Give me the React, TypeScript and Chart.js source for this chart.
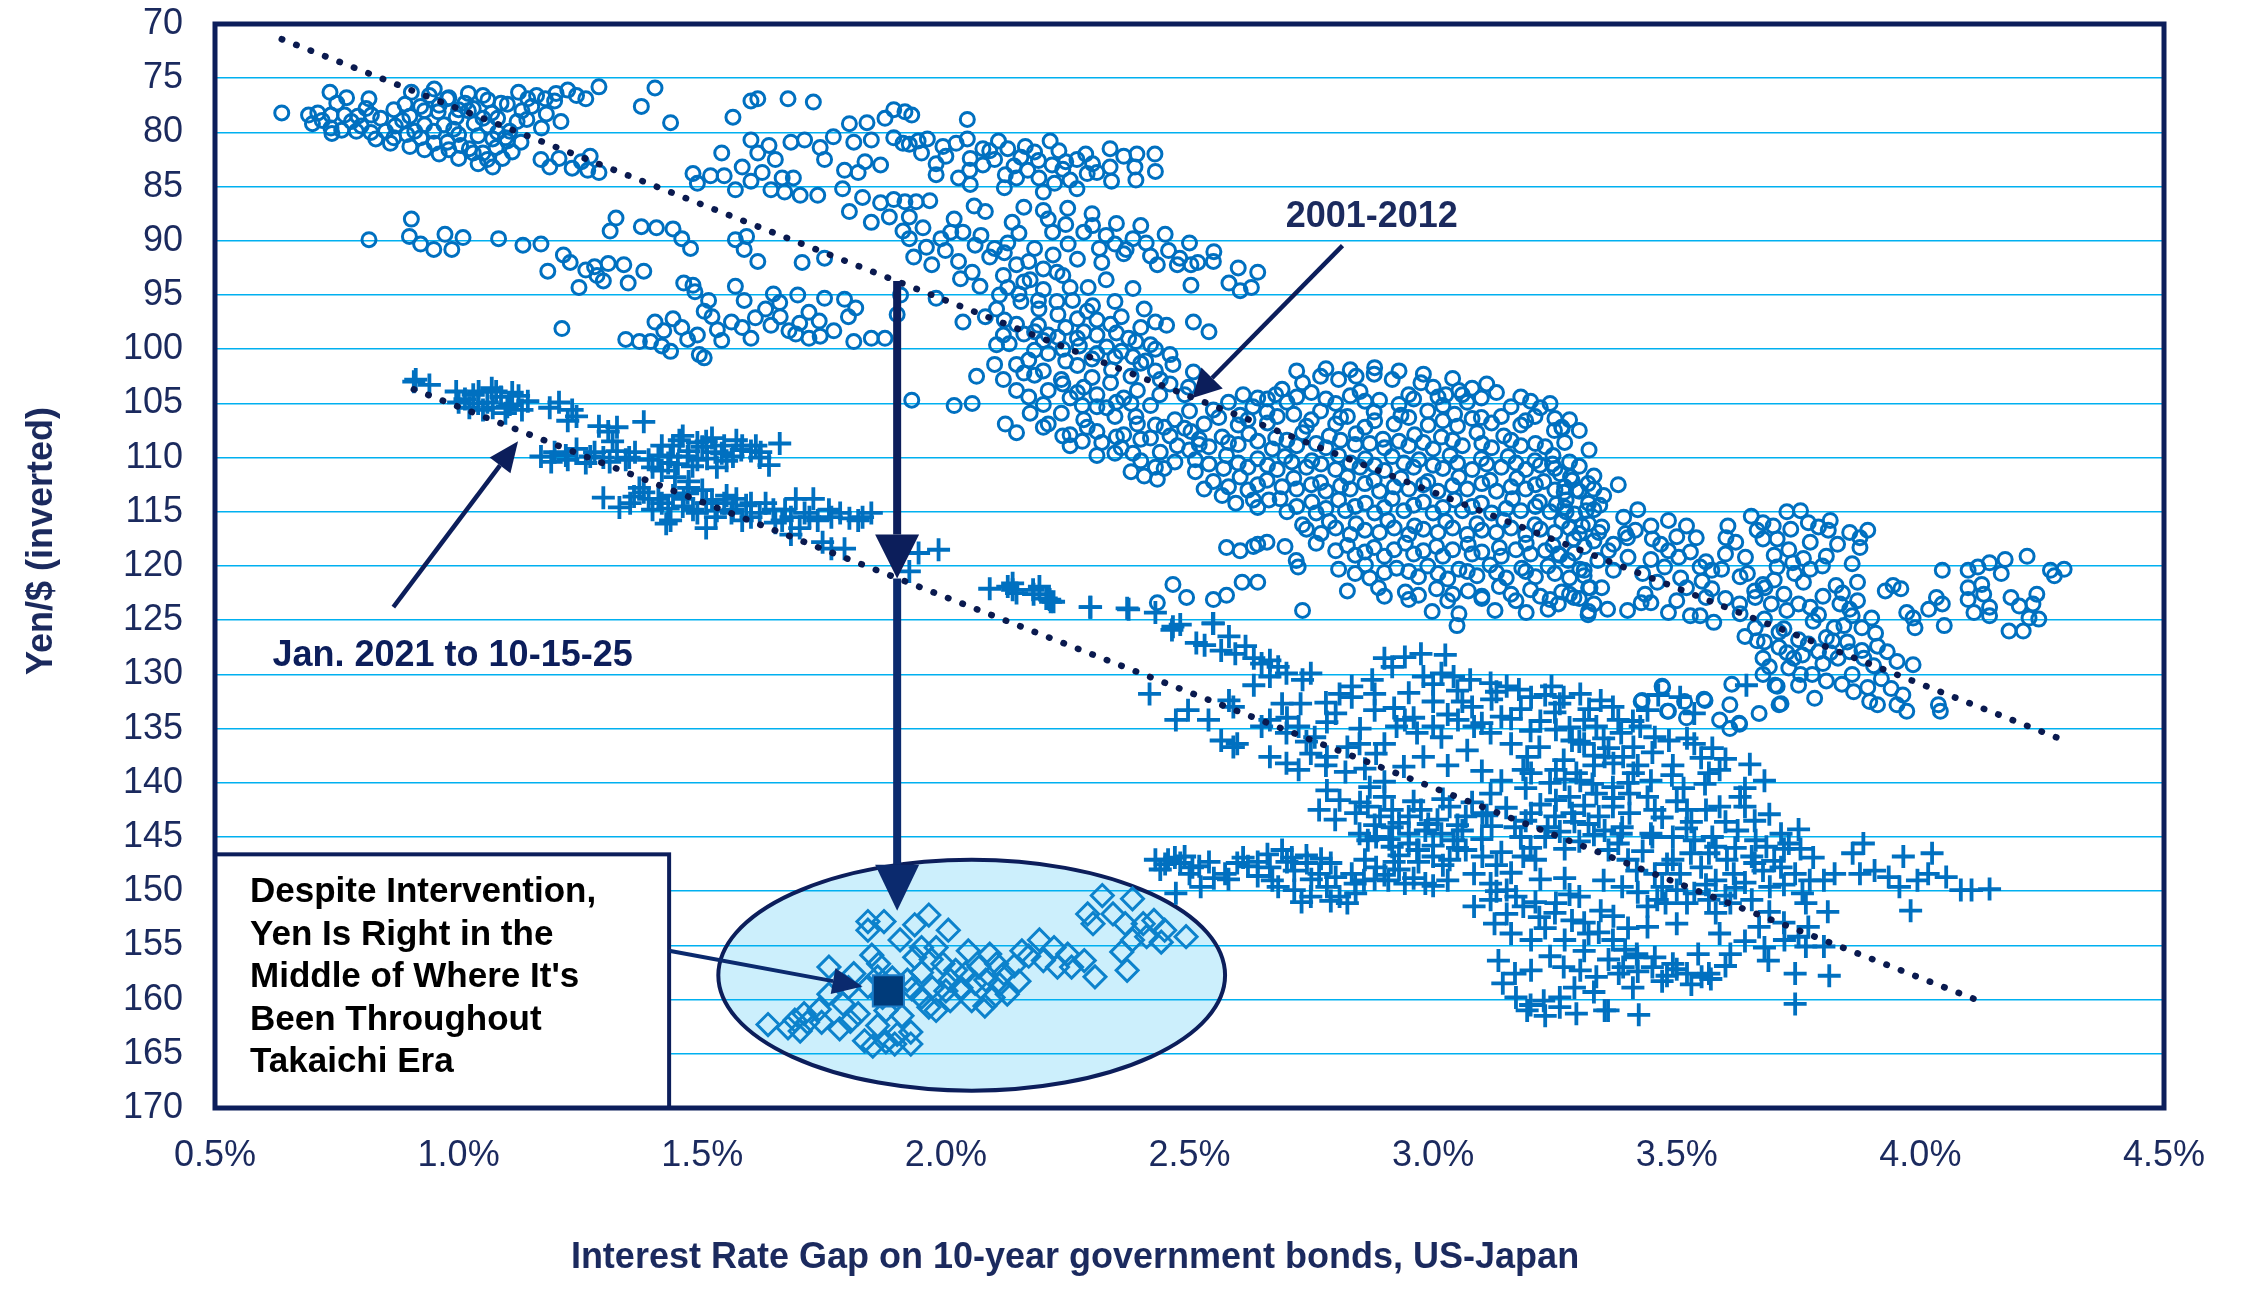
import { useEffect, useRef } from "react";
import { Chart, registerables } from "chart.js";

Chart.register(...registerables);

// x = US-Japan 10y yield gap (%), y = yen per dollar (axis inverted)
const period2001to2012: [number, number][] = [
	[0.637, 78.2], [0.692, 78.4], [0.711, 78.2], [0.738, 78.4], [0.766, 78.4], [0.793, 78.5], [0.821, 78.4],
	[0.736, 76.3], [0.77, 76.8], [0.816, 76.9], [0.738, 79.6], [0.76, 79.8], [0.79, 79.9], [0.82, 80.0], [0.85, 79.9],
	[0.867, 77.9], [0.885, 78.9], [0.903, 76.3], [0.922, 77.6], [0.94, 76.6], [0.958, 78.1], [0.977, 76.9], [0.995, 78.6],
	[1.013, 77.3], [1.032, 79.2], [1.05, 76.6], [1.068, 78.2], [1.087, 77.3], [1.105, 79.9], [1.123, 76.3], [1.142, 76.9],
	[1.16, 76.6], [1.178, 76.9], [1.197, 77.1], [1.224, 76.1], [1.242, 76.6], [1.261, 76.9], [1.288, 75.8],
	[0.9, 78.5], [0.93, 79.3], [0.96, 77.5], [0.99, 79.7], [1.02, 78.0], [1.04, 80.3], [1.06, 79.4], [1.08, 78.7],
	[1.1, 80.8], [1.12, 79.0], [1.0, 80.2], [0.95, 81.0], [1.11, 81.8],
	[0.72, 78.9], [0.75, 77.3], [0.78, 79.0], [0.81, 77.8], [0.84, 78.7], [0.87, 79.4], [0.89, 77.4], [0.91, 79.9],
	[0.93, 78.0], [0.97, 79.3], [1.0, 77.9], [1.03, 77.8], [1.05, 78.7], [1.08, 80.0], [1.13, 78.0], [1.15, 77.6],
	[1.18, 78.3], [1.2, 76.4], [0.98, 81.6], [1.03, 81.9], [1.07, 80.6], [1.09, 82.4],
	[0.7, 79.2], [0.74, 80.1], [0.8, 79.4], [0.83, 80.6], [0.86, 81.0], [0.9, 81.3], [0.93, 81.6], [0.96, 82.0],
	[1.0, 82.4], [1.04, 82.9], [1.07, 83.2], [1.06, 77.0], [1.1, 77.4], [1.14, 78.8], [1.17, 79.6], [1.21, 79.0],
	[0.98, 76.8], [0.95, 76.0], [1.02, 76.4],
	[0.867, 80.5], [0.894, 80.2], [0.922, 80.5], [0.949, 79.9], [0.977, 80.9], [1.004, 81.2], [1.022, 81.5], [1.05, 81.9],
	[1.059, 82.5], [1.077, 81.4], [1.096, 80.5], [1.128, 80.9], [1.169, 82.5], [1.187, 83.2], [1.206, 82.4], [1.233, 83.3],
	[1.252, 82.7], [1.27, 82.2], [1.288, 83.7], [1.265, 83.5],
	[1.375, 77.6], [1.403, 75.9], [1.435, 79.1], [1.563, 78.6], [1.6, 77.1], [1.614, 76.9], [1.676, 76.9], [1.728, 77.2],
	[0.816, 89.9], [0.903, 88.0], [0.899, 89.6], [0.922, 90.3], [0.949, 90.8], [0.972, 89.4], [0.986, 90.8], [1.009, 89.7],
	[1.082, 89.8], [1.132, 90.4], [1.169, 90.3], [1.215, 91.3], [1.229, 92.0], [1.183, 92.8], [1.261, 92.7], [1.279, 92.4],
	[1.307, 92.1], [1.339, 92.2], [1.38, 92.8], [1.284, 93.2], [1.297, 93.7], [1.247, 94.3], [1.348, 93.9], [1.212, 98.1],
	[1.311, 89.1], [1.323, 87.9], [1.375, 88.7], [1.406, 88.8], [1.44, 88.9], [1.458, 89.8], [1.476, 90.7],
	[1.568, 89.9], [1.591, 89.6], [1.586, 90.8], [1.614, 91.9], [1.705, 92.0], [1.751, 91.6],
	[1.462, 93.9], [1.481, 94.1], [1.485, 94.7], [1.513, 95.5], [1.504, 96.5], [1.568, 94.2], [1.586, 95.5], [1.646, 94.9],
	[1.659, 95.7], [1.696, 95.0], [1.719, 96.6], [1.751, 95.3], [1.792, 95.4], [1.815, 96.2],
	[1.343, 99.1], [1.371, 99.3], [1.394, 99.3], [1.417, 99.7], [1.435, 100.2], [1.403, 97.5], [1.421, 98.3], [1.458, 98.0],
	[1.49, 98.7], [1.494, 100.5], [1.504, 100.8], [1.531, 98.2], [1.54, 99.2], [1.582, 98.0], [1.6, 99.0], [1.609, 97.1],
	[1.641, 97.8], [1.678, 98.3], [1.692, 98.6], [1.719, 99.0], [1.742, 98.8], [1.811, 99.3], [1.847, 99.0], [1.875, 99.0],
	[1.9, 96.8], [1.907, 95.0],
	[1.44, 97.2], [1.47, 99.1], [1.52, 97.0], [1.56, 97.5], [1.63, 96.3], [1.66, 97.0], [1.7, 97.6], [1.74, 97.4],
	[1.77, 98.3], [1.8, 97.0],
	[1.481, 83.8], [1.49, 84.7], [1.517, 84.0], [1.54, 81.9], [1.545, 84.0], [1.568, 85.3], [1.582, 83.2], [1.6, 80.7],
	[1.6, 84.5], [1.614, 81.9], [1.623, 83.7], [1.637, 81.2], [1.641, 85.3], [1.65, 82.5], [1.664, 84.2], [1.669, 85.5],
	[1.682, 80.9], [1.687, 84.2], [1.701, 85.8], [1.71, 80.7], [1.737, 85.8], [1.742, 81.4], [1.751, 82.5], [1.769, 80.4],
	[1.788, 85.2], [1.792, 83.5], [1.802, 79.2], [1.811, 80.9], [1.82, 83.7], [1.829, 86.0], [1.834, 82.7], [1.838, 79.1],
	[1.847, 80.7], [1.866, 83.0], [1.875, 78.7], [1.884, 87.8], [1.893, 77.9], [1.893, 80.5], [1.912, 81.0], [1.802, 87.3],
	[1.847, 88.3], [1.866, 86.5], [1.893, 86.2], [1.912, 89.1], [1.925, 89.8], [1.916, 78.1],
	[1.93, 78.4], [2.044, 78.8], [1.925, 81.1], [1.943, 80.8], [1.962, 80.6], [1.98, 82.9], [1.994, 81.3], [1.98, 83.9],
	[2.021, 81.0], [2.026, 84.2], [2.044, 80.6], [2.049, 83.5], [2.076, 81.5], [2.076, 83.0], [2.09, 81.7], [2.108, 80.8],
	[2.122, 83.9], [2.127, 81.5], [2.145, 84.2], [2.154, 82.3], [2.163, 81.3], [2.168, 83.5], [2.182, 81.8], [2.191, 84.2],
	[2.214, 80.8], [2.218, 83.0], [2.223, 84.7], [2.232, 81.7], [2.246, 82.7], [2.255, 84.4], [2.269, 85.2], [2.269, 82.5],
	[2.287, 82.0], [2.301, 82.9], [2.31, 83.7], [2.337, 81.5], [2.337, 83.2], [2.365, 82.2], [2.388, 83.2], [2.392, 82.0],
	[2.429, 82.0],
	[1.95, 81.9], [2.0, 82.2], [2.05, 82.4], [2.1, 82.5], [2.14, 83.1], [2.19, 82.6], [2.24, 83.4], [2.29, 83.8],
	[2.34, 84.5], [2.39, 84.4], [2.43, 83.6], [2.05, 84.8], [2.12, 85.1], [2.2, 85.5],
	[1.916, 86.4], [1.939, 86.4], [1.967, 86.3], [1.925, 87.8], [1.953, 88.8], [1.99, 89.8], [2.017, 88.0], [2.035, 89.2],
	[2.058, 86.8], [2.081, 87.3], [2.072, 89.5], [2.1, 90.7], [2.136, 88.3], [2.127, 90.2], [2.15, 89.3], [2.182, 90.7],
	[2.21, 88.0], [2.219, 89.2], [2.246, 88.5], [2.251, 90.3], [2.283, 89.2], [2.301, 88.6], [2.315, 90.7], [2.329, 89.5],
	[2.347, 90.3], [2.365, 91.2], [2.384, 89.8], [2.411, 90.2], [2.434, 92.2], [2.457, 90.9], [2.475, 92.2], [2.503, 92.2],
	[2.517, 92.0], [2.549, 91.9], [2.503, 94.1], [2.581, 93.9], [2.627, 94.3], [2.604, 94.6], [2.384, 94.4], [2.407, 96.3],
	[2.43, 97.5], [2.453, 97.8], [2.508, 97.5], [2.54, 98.4], [2.466, 101.4], [2.508, 102.1], [2.498, 103.5],
	[2.16, 86.9], [2.2, 87.2], [2.25, 87.0], [2.3, 87.5], [2.35, 88.4], [2.4, 88.6], [2.45, 89.4], [2.5, 90.2],
	[2.55, 91.0], [2.6, 92.5], [2.64, 92.9], [2.48, 91.6], [2.42, 91.4], [2.37, 90.8], [2.32, 92.0], [2.27, 91.7],
	[2.22, 91.3], [2.17, 91.9], [2.12, 91.1], [2.06, 90.4], [2.01, 89.2], [1.96, 90.6],
	[1.934, 91.5], [1.971, 92.2], [1.999, 90.9], [2.026, 91.9], [2.054, 92.9], [2.09, 91.5], [2.118, 93.2], [2.145, 92.2],
	[2.173, 93.6], [2.2, 92.6], [2.228, 92.9], [2.255, 94.3], [2.292, 94.3], [2.329, 93.6], [2.347, 95.6], [2.301, 96.0],
	[2.228, 95.6], [2.191, 96.3], [2.154, 95.6], [2.127, 94.3], [2.104, 96.3], [2.118, 98.7], [2.104, 99.6], [2.1, 101.4],
	[2.063, 102.5], [2.017, 105.2], [2.054, 105.0], [1.93, 104.7], [1.98, 95.3], [2.035, 97.5], [2.081, 97.0], [2.145, 97.7],
	[2.182, 98.4], [2.21, 98.7], [2.246, 98.0], [2.283, 98.4], [2.31, 98.7], [2.338, 97.7], [2.375, 99.0], [2.384, 100.7],
	[2.347, 100.7], [2.31, 100.4], [2.274, 99.7], [2.246, 101.1], [2.21, 100.4], [2.182, 100.1], [2.145, 101.4], [2.118, 102.8],
	[2.145, 103.8], [2.182, 102.4], [2.21, 103.8], [2.237, 102.8], [2.255, 104.5], [2.283, 103.5], [2.31, 104.2], [2.338, 103.1],
	[2.365, 104.5], [2.393, 103.8], [2.42, 105.2], [2.439, 104.2], [2.122, 106.9], [2.145, 107.7], [2.173, 105.9], [2.21, 106.9],
	[2.237, 105.9], [2.255, 107.9], [2.283, 106.5], [2.31, 107.6], [2.347, 106.2], [2.365, 107.9], [2.393, 106.9], [2.42, 108.2],
	[2.448, 107.2], [2.475, 108.9], [2.31, 109.8], [2.347, 109.6], [2.384, 109.6], [2.407, 111.7], [2.434, 112.0], [2.448, 111.0],
	[2.255, 108.9], [2.512, 111.3], [2.53, 112.9], [2.567, 113.5], [2.631, 113.9], [2.663, 113.9],
	[2.13, 99.5], [2.17, 101.0], [2.2, 99.2], [2.24, 100.0], [2.27, 101.5], [2.3, 102.6], [2.34, 101.9], [2.38, 102.5],
	[2.41, 101.1], [2.44, 102.8], [2.43, 100.0], [2.4, 98.0], [2.36, 97.0], [2.29, 96.5], [2.26, 95.5], [2.2, 94.5],
	[2.16, 93.8], [2.24, 93.2], [2.28, 105.2], [2.33, 105.4], [2.38, 105.0], [2.4, 108.3], [2.44, 109.5], [2.47, 110.4],
	[2.5, 109.3], [2.35, 108.1], [2.29, 107.2], [2.2, 105.1], [2.17, 104.4], [2.47, 106.5], [2.5, 105.7],
	[2.03, 93.5], [2.07, 94.2], [2.11, 95.0], [2.15, 94.9], [2.19, 95.5], [2.23, 96.8], [2.27, 97.2], [2.31, 97.3],
	[2.35, 98.5], [2.39, 99.3], [2.42, 99.6], [2.46, 100.5], [2.12, 97.3], [2.16, 98.6], [2.19, 97.8], [2.23, 98.9],
	[2.27, 99.0], [2.3, 100.9], [2.33, 99.8], [2.36, 100.2], [2.4, 101.3], [2.43, 102.0], [2.46, 103.2], [2.49, 104.2],
	[2.16, 102.2], [2.2, 102.0], [2.24, 103.2], [2.27, 104.0], [2.31, 105.3], [2.35, 104.9], [2.39, 106.2], [2.43, 107.0],
	[2.46, 108.0], [2.49, 107.3], [2.52, 108.8], [2.2, 107.2], [2.24, 108.0], [2.28, 108.5], [2.32, 108.6], [2.36, 109.1],
	[2.4, 110.3], [2.43, 110.9], [2.38, 111.3],
	[2.64, 104.5], [2.677, 104.2], [2.732, 103.1], [2.769, 102.5], [2.806, 102.8], [2.842, 102.5], [2.879, 102.3], [2.916, 102.8],
	[2.975, 103.1], [3.026, 104.2], [3.053, 103.8], [3.099, 104.5], [3.2, 104.8], [3.209, 106.2], [3.264, 107.2],
	[2.72, 102.0], [2.78, 101.8], [2.83, 101.9], [2.88, 101.7], [2.93, 102.0], [2.98, 102.3], [3.04, 102.7], [3.11, 103.2],
	[2.69, 103.7], [2.75, 104.0], [2.85, 103.9], [2.95, 104.2], [3.0, 103.5], [3.08, 103.6],
	[2.61, 104.2], [2.66, 104.6], [2.72, 104.4], [2.78, 104.6], [2.83, 104.3], [2.89, 104.7], [2.96, 104.6], [3.01, 104.4],
	[3.06, 104.2], [3.13, 104.0], [3.18, 104.4], [3.24, 105.0], [3.28, 106.5],
	[2.58, 104.9], [2.63, 105.3], [2.7, 104.9], [2.8, 105.0], [2.86, 104.8], [2.93, 105.1], [3.02, 105.2], [3.07, 104.9],
	[3.16, 105.3], [3.22, 105.4],
	[2.549, 105.6], [2.604, 106.1], [2.659, 105.8], [2.714, 106.0], [2.769, 105.7], [2.824, 106.2], [2.879, 105.8], [2.934, 106.1],
	[2.989, 105.7], [3.044, 106.0], [3.099, 106.3],
	[2.56, 106.3], [2.62, 106.5], [2.68, 106.2], [2.75, 106.5], [2.81, 106.3], [2.88, 106.6], [2.95, 106.3], [3.02, 106.6],
	[3.08, 106.4], [3.14, 106.2], [3.19, 106.6], [3.25, 106.4], [3.3, 107.5],
	[2.53, 106.9], [2.6, 107.0], [2.66, 106.8], [2.74, 107.1], [2.8, 106.9], [2.86, 107.2], [2.92, 106.9], [2.99, 107.0],
	[3.05, 107.1], [3.12, 106.8], [3.18, 107.0],
	[2.503, 107.6], [2.567, 108.1], [2.622, 107.8], [2.677, 108.2], [2.732, 107.7], [2.787, 108.0], [2.842, 107.8], [2.897, 108.3],
	[2.962, 107.9], [3.017, 108.1], [3.09, 107.7], [3.145, 108.0],
	[2.52, 108.3], [2.58, 108.6], [2.64, 108.5], [2.7, 108.4], [2.76, 108.7], [2.81, 108.4], [2.87, 108.7], [2.93, 108.5],
	[2.98, 108.6], [3.04, 108.4], [3.1, 108.7], [3.16, 108.4], [3.21, 108.7], [3.27, 108.6], [3.32, 109.3],
	[2.54, 109.0], [2.6, 108.8], [2.67, 109.2], [2.72, 108.9], [2.78, 109.1], [2.84, 108.8], [2.9, 109.1], [2.95, 108.9],
	[3.0, 109.2], [3.06, 108.9], [3.12, 109.1], [3.18, 108.9], [3.23, 109.0],
	[2.512, 110.2], [2.576, 109.8], [2.64, 110.1], [2.696, 109.9], [2.751, 110.3], [2.806, 109.8], [2.861, 110.1], [2.916, 109.9],
	[2.971, 110.2], [3.035, 109.8], [3.099, 110.1], [3.154, 109.9], [3.209, 110.3], [3.246, 109.8],
	[2.54, 110.6], [2.6, 110.5], [2.66, 110.7], [2.71, 110.4], [2.77, 110.6], [2.83, 110.5], [2.88, 110.7], [2.94, 110.5],
	[3.0, 110.7], [3.05, 110.5], [3.11, 110.6], [3.17, 110.5], [3.22, 110.7], [3.28, 110.4], [3.33, 111.7],
	[2.57, 111.0], [2.62, 110.9], [2.68, 111.1], [2.74, 110.9], [2.8, 111.1], [2.85, 110.9], [2.9, 111.2], [2.96, 110.9],
	[3.02, 111.0], [3.08, 111.1], [3.14, 110.9], [3.19, 111.1], [3.25, 111.0], [3.3, 110.8],
	[2.549, 112.2], [2.604, 111.8], [2.659, 112.1], [2.714, 111.9], [2.769, 112.3], [2.824, 111.8], [2.879, 112.1], [2.934, 111.9],
	[2.989, 112.2], [3.053, 111.8], [3.117, 112.1], [3.172, 111.9], [3.227, 112.2], [3.282, 111.8],
	[2.58, 112.7], [2.64, 112.5], [2.69, 112.7], [2.75, 112.5], [2.81, 112.6], [2.86, 112.4], [2.92, 112.7], [2.98, 112.5],
	[3.04, 112.6], [3.1, 112.4], [3.16, 112.7], [3.21, 112.5], [3.27, 112.7], [3.33, 112.9],
	[2.62, 113.0], [2.72, 112.9], [2.78, 113.1], [2.83, 112.9], [2.89, 113.1], [2.95, 112.9], [3.01, 113.1], [3.07, 112.9],
	[3.13, 113.1], [3.19, 112.9], [3.25, 113.0], [3.3, 113.1],
	[2.595, 114.2], [2.686, 113.8], [2.751, 114.1], [2.806, 113.9], [2.861, 114.2], [2.916, 113.8], [2.98, 114.1], [3.044, 113.9],
	[3.099, 114.2], [3.163, 113.8], [3.218, 114.1], [3.273, 113.9], [3.319, 114.2],
	[2.64, 114.6], [2.72, 114.5], [2.78, 114.7], [2.84, 114.5], [2.9, 114.6], [2.96, 114.4], [3.02, 114.6], [3.08, 114.5],
	[3.15, 114.7], [3.21, 114.5], [3.27, 114.6], [3.33, 114.8],
	[2.7, 115.0], [2.76, 115.1], [2.82, 114.9], [2.88, 115.1], [2.94, 114.9], [3.0, 115.1], [3.06, 114.9], [3.12, 115.1],
	[3.18, 114.9], [3.24, 115.0], [3.29, 115.2],
	[2.732, 116.2], [2.787, 115.9], [2.842, 116.1], [2.907, 115.8], [2.962, 116.3], [3.026, 115.9], [3.09, 116.1], [3.145, 115.8],
	[3.209, 116.2], [3.264, 115.9], [3.319, 116.1],
	[2.74, 116.6], [2.8, 116.5], [2.86, 116.7], [2.92, 116.5], [2.98, 116.6], [3.04, 116.5], [3.1, 116.7], [3.16, 116.5],
	[3.22, 116.6], [3.28, 116.5], [3.34, 116.9],
	[2.77, 117.0], [2.83, 117.1], [2.89, 116.9], [2.95, 117.1], [3.01, 116.9], [3.07, 117.1], [3.13, 116.9], [3.19, 117.1],
	[3.25, 116.9], [3.3, 117.0],
	[2.576, 118.3], [2.64, 118.0], [2.696, 118.2], [2.76, 117.9], [2.824, 118.1], [2.879, 118.3], [2.943, 117.9], [3.007, 118.2],
	[3.072, 118.0], [3.136, 118.3], [3.191, 117.9], [3.246, 118.1], [3.31, 118.2], [2.604, 118.6], [2.631, 118.2], [2.659, 117.8],
	[2.8, 118.6], [2.86, 118.7], [2.92, 118.5], [2.98, 118.6], [3.04, 118.5], [3.1, 118.7], [3.17, 118.5], [3.23, 118.6],
	[3.29, 118.8],
	[2.84, 119.0], [2.9, 119.1], [2.96, 118.9], [3.02, 119.1], [3.08, 118.9], [3.14, 119.1], [3.2, 118.9], [3.26, 119.0],
	[2.723, 120.1], [2.806, 120.3], [2.861, 119.9], [2.925, 120.2], [2.989, 120.0], [3.053, 120.3], [3.117, 119.9], [3.182, 120.2],
	[3.236, 120.0], [3.301, 120.3],
	[2.84, 120.7], [2.9, 120.6], [2.95, 120.5], [3.01, 120.7], [3.07, 120.5], [3.13, 120.6], [3.19, 120.5], [3.25, 120.7],
	[3.31, 120.9],
	[2.87, 121.1], [2.97, 121.0], [3.03, 121.2], [3.09, 120.9], [3.15, 121.1], [3.21, 121.0], [3.28, 121.1],
	[2.824, 122.3], [2.888, 122.0], [2.943, 122.4], [3.007, 122.1], [3.072, 122.3], [3.136, 121.9], [3.2, 122.2], [3.264, 122.4],
	[3.319, 122.0], [2.95, 123.1], [3.03, 123.2], [3.1, 123.0], [3.17, 123.2], [3.24, 123.1], [3.3, 123.0],
	[2.9, 122.8], [2.97, 122.7], [3.04, 122.6], [3.1, 122.8], [3.16, 122.6], [3.22, 122.8], [3.28, 122.6], [3.33, 123.5],
	[2.998, 124.2], [3.053, 124.4], [3.127, 124.1], [3.191, 124.3], [3.236, 124.0], [3.319, 124.2],
	[2.732, 124.1], [3.049, 125.5], [2.719, 119.5], [2.466, 121.7], [2.494, 122.9], [2.549, 123.1], [2.576, 122.7], [2.608, 121.5],
	[2.64, 121.5], [2.434, 123.4],
	[3.249, 107.5], [3.265, 107.3], [3.245, 110.6], [3.261, 111.5], [3.285, 112.1], [3.318, 112.4], [3.294, 113.0], [3.269, 113.2],
	[3.253, 114.3], [3.273, 115.0], [3.314, 114.9], [3.342, 114.4], [3.306, 116.3], [3.346, 116.4], [3.391, 115.5], [3.395, 117.0],
	[3.37, 118.0], [3.33, 117.7], [3.289, 117.5], [3.257, 118.9], [3.277, 119.5], [3.31, 120.4], [3.338, 119.5], [3.37, 120.4],
	[3.399, 117.4], [3.415, 116.7], [3.447, 116.3], [3.483, 115.8], [3.52, 116.3], [3.467, 118.0], [3.483, 118.6], [3.447, 119.4],
	[3.504, 119.2], [3.528, 118.7], [3.475, 120.1], [3.508, 121.1], [3.548, 120.1], [3.572, 120.4], [3.592, 120.3], [3.552, 121.4],
	[3.572, 122.1], [3.322, 122.0], [3.289, 122.9], [3.257, 123.5], [3.318, 124.5], [3.358, 124.0], [3.399, 124.1], [3.427, 123.4],
	[3.447, 123.4], [3.483, 124.3], [3.5, 123.2], [3.528, 124.6], [3.548, 124.6], [3.576, 125.2], [3.346, 122.0], [3.435, 122.6],
	[3.35, 113.5], [3.38, 112.5], [3.42, 114.8], [3.45, 117.5], [3.5, 117.3], [3.54, 117.4], [3.56, 119.6], [3.6, 118.9],
	[3.63, 121.0], [3.66, 122.3], [3.7, 121.3], [3.72, 122.6], [3.76, 121.5], [3.8, 122.8], [3.84, 122.5], [3.86, 124.6],
	[3.9, 124.8], [3.63, 124.4], [3.68, 124.9], [3.72, 125.8], [3.75, 126.8], [3.78, 125.1], [3.69, 129.3], [3.73, 129.4],
	[3.75, 131.0], [3.8, 129.0], [3.86, 130.0], [3.92, 130.4], [3.94, 131.3],
	[3.36, 118.6], [3.4, 119.2], [3.43, 120.7], [3.46, 121.5], [3.52, 122.0], [3.56, 122.9], [3.6, 123.0], [3.64, 126.5],
	[3.68, 127.0], [3.71, 126.1], [3.74, 128.5], [3.77, 127.2], [3.82, 126.9], [3.85, 127.0], [3.88, 127.8], [3.7, 119.0],
	[3.73, 118.5], [3.76, 119.3], [3.83, 118.0], [3.86, 119.8],
	[3.605, 116.3], [3.601, 117.4], [3.621, 117.8], [3.653, 115.4], [3.677, 116.0], [3.665, 116.7], [3.698, 116.3], [3.677, 117.5],
	[3.706, 117.5], [3.726, 115.0], [3.754, 114.9], [3.734, 116.6], [3.77, 116.0], [3.791, 116.4], [3.815, 115.8], [3.811, 116.7],
	[3.774, 117.8], [3.855, 116.9], [3.876, 117.4], [3.892, 116.7], [3.876, 118.3], [3.641, 119.2], [3.645, 120.7], [3.677, 121.7],
	[3.706, 120.1], [3.738, 119.7], [3.742, 120.7], [3.774, 120.3], [3.799, 120.0], [3.807, 119.1], [3.629, 123.5], [3.661, 122.9],
	[3.694, 123.5], [3.681, 122.0], [3.726, 124.1], [3.75, 123.5], [3.774, 123.8], [3.791, 124.5], [3.827, 121.8], [3.835, 123.5],
	[3.871, 121.5], [3.871, 123.2], [3.855, 124.0], [3.823, 125.7], [3.807, 126.6], [3.843, 125.5], [3.88, 125.7], [3.908, 126.2],
	[3.912, 127.4], [3.932, 127.9], [3.952, 128.8], [3.985, 129.1], [3.661, 125.7], [3.665, 126.9], [3.677, 128.5], [3.71, 127.5],
	[3.726, 128.0], [3.758, 128.2], [3.791, 127.9], [3.815, 128.0], [3.831, 128.5], [3.855, 127.9], [3.884, 128.5], [3.904, 129.2],
	[3.677, 130.0], [3.754, 130.0], [3.778, 130.0], [3.807, 130.6], [3.839, 130.9], [3.863, 131.6], [3.892, 131.2], [3.783, 132.2],
	[3.896, 132.5], [3.912, 132.8], [3.952, 132.8], [3.964, 131.9], [3.972, 133.4], [4.037, 132.8], [4.041, 133.4], [3.613, 130.9],
	[3.609, 132.8], [3.588, 134.2], [3.609, 135.0], [3.629, 134.6], [3.669, 133.6], [3.706, 131.1], [3.71, 132.8], [3.471, 131.2],
	[3.427, 132.5], [3.483, 133.4], [3.516, 132.5], [3.556, 132.3], [3.52, 134.0], [3.429, 132.4], [3.47, 131.1], [3.481, 133.4],
	[3.558, 132.4], [3.628, 134.5], [3.702, 131.0], [3.714, 132.7],
	[3.928, 122.3], [3.944, 121.8], [3.96, 122.1], [3.972, 124.3], [3.985, 124.8], [3.989, 125.7], [4.017, 124.0], [4.033, 122.9],
	[4.045, 123.5], [4.049, 125.5], [4.045, 120.4], [4.098, 120.4], [4.118, 120.1], [4.142, 119.7], [4.174, 119.4], [4.219, 119.1],
	[4.166, 120.7], [4.098, 122.0], [4.126, 121.7], [4.13, 122.6], [4.098, 123.1], [4.11, 124.3], [4.142, 123.8], [4.142, 124.6],
	[4.186, 122.9], [4.203, 123.7], [4.231, 123.5], [4.239, 122.6], [4.223, 124.8], [4.243, 124.9], [4.182, 126.0], [4.211, 126.0],
	[4.267, 120.4], [4.275, 120.9], [4.295, 120.3],
];

const period2021to2025: [number, number][] = [
	[0.912, 102.8], [0.94, 103.3], [0.908, 103.0],
	[0.995, 103.9], [1.013, 104.6], [1.041, 103.9], [1.059, 104.9], [1.068, 103.6], [1.087, 104.4], [1.105, 105.1], [1.123, 104.3],
	[1.142, 104.8], [1.05, 105.6], [1.096, 105.9], [1.022, 105.4], [1.077, 103.9], [1.03, 104.2], [1.11, 104.0],
	[1.0, 104.9], [1.04, 105.0], [1.07, 105.4], [1.1, 105.3], [1.13, 105.6],
	[1.187, 105.4], [1.206, 104.9], [1.233, 105.6], [1.242, 106.2], [1.224, 106.6], [1.288, 107.1], [1.307, 107.6], [1.325, 107.2],
	[1.38, 106.7], [1.316, 108.5],
	[1.169, 109.9], [1.197, 109.5], [1.224, 110.2], [1.242, 109.2], [1.261, 110.5], [1.279, 109.5], [1.297, 110.0], [1.325, 109.4],
	[1.343, 110.2], [1.362, 109.5],
	[1.19, 110.4], [1.22, 109.8], [1.27, 109.9], [1.31, 110.4], [1.35, 110.0], [1.39, 110.2],
	[1.398, 110.9], [1.417, 108.9], [1.435, 109.9], [1.453, 108.4], [1.472, 109.4], [1.49, 110.2], [1.508, 108.5], [1.527, 109.5],
	[1.545, 108.9], [1.563, 109.9], [1.582, 108.9], [1.6, 109.4], [1.618, 110.0], [1.637, 110.7], [1.659, 108.7], [1.417, 111.2],
	[1.444, 111.8], [1.472, 112.2], [1.46, 108.0], [1.5, 109.0], [1.43, 110.5], [1.48, 110.8], [1.55, 110.3], [1.52, 108.2],
	[1.41, 109.8], [1.45, 110.6], [1.49, 108.6], [1.53, 110.9], [1.57, 108.4], [1.61, 108.9],
	[1.44, 108.9], [1.47, 109.9], [1.51, 110.1], [1.54, 109.6], [1.58, 109.3], [1.62, 109.5],
	[1.297, 113.7], [1.352, 114.2], [1.38, 113.2], [1.398, 114.8], [1.417, 114.2], [1.435, 115.8], [1.462, 113.8], [1.481, 114.8],
	[1.508, 114.2], [1.527, 115.5], [1.545, 114.2], [1.563, 114.8], [1.582, 115.8], [1.6, 114.2], [1.618, 115.1], [1.371, 112.8],
	[1.472, 112.8], [1.426, 116.1], [1.508, 116.5], [1.44, 113.5], [1.5, 113.0], [1.55, 113.5], [1.39, 113.8],
	[1.46, 114.5], [1.49, 115.1], [1.53, 114.9], [1.57, 113.8], [1.6, 115.5], [1.41, 113.8], [1.36, 113.6], [1.33, 114.6],
	[1.43, 114.7], [1.47, 113.3], [1.52, 113.9], [1.56, 115.1], [1.59, 114.4], [1.63, 114.2],
	[1.646, 114.8], [1.664, 115.8], [1.682, 115.5], [1.692, 113.8], [1.71, 115.1], [1.728, 113.8], [1.737, 115.8], [1.765, 115.5],
	[1.783, 115.1], [1.802, 115.6], [1.829, 115.5], [1.847, 115.1], [1.682, 117.1], [1.747, 117.8], [1.765, 118.4], [1.792, 118.4],
	[1.65, 116.0], [1.7, 116.5], [1.67, 114.8], [1.72, 115.5], [1.76, 114.8], [1.82, 115.8],
	[1.944, 118.8], [1.985, 118.5], [1.925, 120.5],
	[2.09, 122.1], [2.127, 121.9], [2.145, 122.5], [2.18, 122.6], [2.206, 123.0], [2.215, 123.3], [2.297, 123.8], [2.375, 124.0],
	[2.43, 124.3], [2.466, 125.6], [2.549, 125.3],
	[2.137, 121.6], [2.137, 122.2], [2.179, 122.2], [2.192, 121.9], [2.213, 123.1], [2.221, 123.3], [2.296, 123.8], [2.372, 123.9],
	[2.464, 125.9], [2.481, 125.4], [2.514, 127.1], [2.531, 127.3], [2.548, 125.3], [2.565, 127.8], [2.581, 126.5], [2.594, 128.1],
	[2.615, 127.4], [2.632, 128.5], [2.648, 129.0], [2.682, 129.3], [2.665, 128.7], [2.699, 129.9], [2.732, 130.5], [2.749, 129.9],
	[2.632, 131.0], [2.665, 130.2], [2.69, 132.7], [2.728, 132.7], [2.581, 132.4], [2.59, 133.0], [2.497, 133.3], [2.472, 134.2],
	[2.539, 134.2], [2.418, 131.8], [2.565, 136.1], [2.598, 136.4], [2.59, 136.7], [2.665, 134.2], [2.648, 134.8], [2.699, 135.4],
	[2.724, 134.8], [2.757, 135.8], [2.782, 134.4], [2.808, 131.8], [2.833, 131.1], [2.833, 132.1], [2.875, 130.5], [2.9, 128.5],
	[2.916, 129.3], [2.942, 128.4], [2.975, 128.1], [3.025, 128.2], [3.017, 129.9], [3.042, 130.2], [3.076, 130.5], [3.118, 130.8],
	[3.151, 131.1], [3.176, 131.4], [3.201, 132.1], [3.243, 131.1], [3.268, 132.1], [3.302, 131.8], [3.344, 132.4], [3.369, 133.0],
	[2.78, 132.6], [2.8, 133.6], [2.85, 135.0], [2.88, 133.3], [2.95, 131.7], [2.98, 130.2], [3.0, 132.5], [3.05, 131.5],
	[3.08, 133.0], [3.12, 132.3], [3.14, 133.9], [3.18, 133.2], [3.22, 134.3], [3.25, 133.5], [3.28, 134.9], [3.32, 133.2],
	[3.35, 135.9], [3.38, 134.2], [3.41, 134.3], [3.44, 133.3], [2.7, 134.0], [2.74, 136.2], [2.78, 138.4], [2.82, 139.0],
	[2.86, 138.7], [2.9, 139.9], [2.94, 138.5], [2.98, 137.6], [3.03, 138.4], [3.07, 137.0], [3.1, 138.9], [3.14, 139.8],
	[3.19, 140.5], [3.24, 140.0], [3.27, 139.7], [3.33, 138.4], [3.37, 138.2],
	[2.88, 131.8], [2.92, 133.1], [2.96, 134.0], [3.0, 130.9], [3.03, 133.7], [3.06, 132.5], [3.1, 134.5], [3.13, 131.6],
	[3.16, 134.1], [3.2, 135.2], [3.23, 131.9], [3.26, 132.7], [3.3, 136.2], [3.33, 137.5], [3.36, 136.8], [3.39, 137.6],
	[3.42, 138.4], [3.45, 137.2],
	[2.665, 137.6], [2.699, 138.2], [2.724, 138.8], [2.749, 137.3], [2.782, 137.6], [2.824, 136.7], [2.849, 136.4], [2.883, 137.3],
	[2.9, 136.4], [2.925, 134.8], [2.942, 134.2], [2.967, 135.4], [3.0, 134.8], [3.017, 135.8], [3.051, 134.2], [3.084, 134.8],
	[3.118, 135.4], [3.16, 136.4], [3.193, 137.6], [3.218, 136.7], [3.252, 135.1], [3.285, 136.1], [3.31, 134.2], [3.335, 134.8],
	[3.386, 135.4], [3.411, 136.7], [3.185, 138.8], [3.201, 139.1], [3.252, 138.8], [3.294, 139.1], [3.327, 140.1], [3.369, 140.4],
	[3.403, 141.0],
	[2.782, 140.7], [2.766, 142.5], [2.808, 141.6], [2.799, 143.4], [2.841, 142.8], [2.866, 142.2], [2.891, 143.1], [2.916, 142.5],
	[2.95, 143.1], [2.975, 142.5], [3.009, 143.4], [3.034, 142.2], [3.067, 143.1], [3.101, 142.8], [3.118, 141.0], [2.849, 144.7],
	[2.883, 145.0], [2.916, 144.1], [2.95, 144.7], [2.984, 144.4], [3.017, 144.7], [3.042, 145.3], [2.866, 145.3], [2.916, 145.9],
	[2.967, 146.2], [3.0, 146.8], [3.034, 147.1], [3.067, 146.2], [3.101, 146.8], [3.185, 146.8], [3.084, 148.4], [3.118, 149.3],
	[3.151, 149.9],
	[2.85, 141.8], [2.88, 143.9], [2.9, 141.3], [2.93, 143.7], [2.96, 141.7], [2.99, 143.8], [3.02, 141.5], [3.05, 143.9],
	[3.08, 141.8], [3.12, 144.0], [3.15, 142.3], [3.19, 143.5], [3.22, 142.0], [3.25, 143.1], [3.28, 141.3], [3.31, 142.1],
	[3.34, 143.1], [3.37, 141.4], [3.4, 140.0], [3.38, 145.6], [3.3, 145.4], [3.27, 146.1], [3.23, 145.0], [3.2, 146.0],
	[2.95, 145.6], [3.0, 145.8], [3.05, 146.0], [3.1, 145.2], [3.13, 147.6], [3.16, 148.3],
	[2.87, 140.4], [2.91, 145.2], [2.93, 146.7], [2.97, 147.3], [3.02, 147.6], [3.06, 144.4], [3.11, 143.0], [3.14, 146.4],
	[3.18, 145.0], [3.21, 147.1], [3.26, 144.5], [3.29, 143.6], [3.33, 144.8], [3.36, 146.2], [3.4, 147.1], [3.45, 145.0],
	[3.48, 147.5], [3.52, 144.2], [3.55, 147.8], [3.58, 145.9], [3.62, 146.0], [3.66, 147.4], [3.7, 147.2], [3.73, 145.6],
	[3.268, 137.9], [3.302, 139.8], [3.335, 141.0], [3.369, 142.2], [3.403, 142.8], [3.252, 141.6], [3.285, 142.8], [3.319, 143.8],
	[3.352, 144.4], [3.386, 144.7], [3.235, 144.1], [3.201, 142.8], [3.168, 144.1], [3.411, 139.1], [3.352, 137.6], [3.31, 136.4],
	[2.43, 147.1], [2.456, 147.1], [2.481, 147.4], [2.506, 147.8], [2.472, 150.2], [2.523, 149.6], [2.573, 148.4], [2.598, 147.4],
	[2.64, 147.3], [2.665, 147.8], [2.69, 146.2], [2.715, 148.1], [2.741, 147.4], [2.766, 148.4], [2.782, 149.6], [2.808, 150.5],
	[2.833, 148.4], [2.858, 149.0], [2.883, 147.8], [2.908, 149.0], [2.942, 149.3], [2.984, 149.3], [2.682, 149.6], [2.715, 149.9],
	[2.749, 150.5], [2.824, 151.1], [2.841, 150.2],
	[2.45, 147.5], [2.49, 146.8], [2.52, 147.7], [2.55, 148.8], [2.62, 147.7], [2.66, 146.6], [2.7, 147.3], [2.74, 146.7],
	[2.77, 147.0], [2.8, 148.7], [2.86, 147.1], [2.9, 148.5], [2.93, 148.0], [2.96, 148.8], [3.0, 149.5], [3.03, 149.0],
	[2.73, 151.0], [2.79, 150.9],
	[2.44, 148.0], [2.47, 146.9], [2.5, 148.4], [2.54, 147.3], [2.58, 148.9], [2.61, 146.9], [2.64, 148.6], [2.67, 149.0],
	[2.71, 146.9], [2.75, 148.9], [2.79, 147.4], [2.84, 149.3], [2.88, 148.9], [2.92, 147.3], [2.97, 146.2],
	[3.084, 151.4], [3.118, 150.8], [3.151, 152.1], [3.185, 151.4], [3.218, 152.4], [3.252, 151.1], [3.285, 152.7], [3.319, 153.9],
	[3.344, 151.8], [3.369, 154.5], [3.394, 155.4], [3.419, 156.1], [3.126, 153.0], [3.16, 153.9], [3.201, 154.5], [3.134, 156.4],
	[3.168, 157.6], [3.201, 157.3], [3.143, 158.5], [3.268, 157.0], [3.302, 157.3], [3.335, 157.9], [3.227, 160.1], [3.193, 161.0],
	[3.26, 160.7], [3.294, 161.3], [3.352, 161.0],
	[3.13, 150.0], [3.17, 150.5], [3.21, 151.0], [3.25, 152.0], [3.28, 150.3], [3.31, 152.9], [3.34, 153.8], [3.37, 152.3],
	[3.4, 153.4], [3.23, 153.4], [3.27, 154.5], [3.31, 155.5], [3.36, 156.3], [3.39, 157.0], [3.42, 157.4], [3.45, 157.0],
	[3.48, 157.8], [3.5, 157.2], [3.24, 156.0], [3.29, 158.9], [3.17, 159.8], [3.23, 161.5],
	[3.35, 149.0], [3.3, 150.5], [3.27, 148.8], [3.22, 148.9], [3.42, 150.1], [3.46, 150.8], [3.5, 149.9], [3.56, 149.4],
	[3.6, 150.4], [3.64, 149.2], [3.69, 151.9], [3.72, 152.9], [3.77, 153.3], [3.68, 155.2], [3.64, 154.6], [3.6, 156.9],
	[3.57, 158.1], [3.53, 158.6], [3.47, 158.3], [3.41, 158.9], [3.33, 159.3], [3.26, 159.8], [3.2, 160.5],
	[3.462, 131.9], [3.507, 132.1], [3.536, 133.6], [3.643, 131.0], [3.425, 134.8], [3.455, 135.8], [3.484, 136.1], [3.521, 135.9],
	[3.536, 136.4], [3.573, 136.8], [3.492, 138.4], [3.447, 139.8], [3.514, 140.5], [3.566, 139.1], [3.588, 138.8], [3.558, 140.1],
	[3.64, 140.5], [3.588, 142.2], [3.64, 142.2], [3.521, 142.5], [3.455, 142.5], [3.388, 144.1], [3.447, 144.7], [3.492, 145.0],
	[3.536, 145.3], [3.573, 145.0], [3.625, 144.4], [3.662, 145.3], [3.714, 144.7], [3.754, 146.1], [3.684, 145.9], [3.654, 146.8],
	[3.603, 147.1], [3.566, 146.5], [3.529, 146.5], [3.492, 147.1], [3.455, 148.4], [3.418, 148.1], [3.388, 149.6], [3.507, 148.4],
	[3.536, 150.2], [3.58, 149.0], [3.617, 148.4], [3.677, 148.1], [3.714, 147.8], [3.743, 148.4], [3.691, 149.6], [3.654, 150.8],
	[3.61, 151.1], [3.566, 150.8], [3.521, 151.1], [3.477, 151.1], [3.44, 151.4], [3.773, 149.0], [3.802, 149.0], [3.824, 148.4],
	[3.861, 146.5], [3.883, 145.6], [3.876, 148.4], [3.906, 148.1], [3.935, 148.7], [3.965, 146.8], [3.957, 149.6], [3.994, 149.0],
	[4.024, 146.5], [4.016, 148.4], [4.053, 148.7], [4.083, 149.9], [4.105, 149.9], [4.142, 149.8], [3.98, 151.8], [3.81, 151.9],
	[3.765, 151.1], [3.758, 150.2], [3.669, 153.3], [3.588, 153.9], [3.61, 155.8], [3.688, 156.4], [3.721, 154.5], [3.75, 154.2],
	[3.765, 155.1], [3.802, 155.1], [3.743, 157.6], [3.743, 160.4], [3.813, 157.8], [3.44, 153.3], [3.418, 155.8], [3.455, 156.1],
	[3.492, 156.7], [3.521, 157.6], [3.551, 157.9], [3.566, 157.6], [3.544, 155.8], [3.381, 157.6], [3.359, 161.0], [3.422, 161.4],
	[3.44, 141.3], [3.47, 143.2], [3.5, 141.7], [3.53, 143.6], [3.56, 142.5], [3.6, 143.6], [3.63, 141.3], [3.66, 143.5],
	[3.69, 142.9], [3.72, 146.1], [3.75, 144.3], [3.78, 146.9], [3.72, 149.4], [3.62, 149.7], [3.58, 152.0], [3.5, 153.0],
	[3.47, 149.6], [3.43, 146.3], [3.6, 137.8], [3.65, 138.3], [3.68, 139.8], [3.55, 137.7], [3.49, 139.3],
];

const takaichiEra: [number, number][] = [
	[1.635, 162.3], [1.676, 162.6], [1.701, 162.9], [1.709, 161.3], [1.716, 162.1], [1.745, 162.1], [1.76, 157.0], [1.782, 162.7],
	[1.804, 162.0], [1.811, 157.6], [1.76, 159.5], [1.789, 160.4], [1.833, 163.8], [1.84, 152.8], [1.873, 152.8], [1.84, 153.6],
	[1.848, 155.9], [1.862, 156.7], [1.877, 161.0], [1.877, 163.9], [1.895, 164.1], [1.928, 164.1], [1.928, 163.0], [1.906, 154.5],
	[1.936, 153.1], [1.965, 152.2], [1.95, 155.2], [1.936, 156.1], [1.921, 158.2], [1.95, 159.8], [1.965, 160.7], [1.972, 158.9],
	[1.98, 155.2], [2.005, 153.6], [1.994, 156.7], [2.009, 158.2], [2.031, 158.9], [2.009, 160.1], [2.046, 155.5], [2.053, 160.1],
	[2.068, 157.0], [2.082, 158.2], [2.09, 155.8], [2.097, 159.8], [2.104, 156.7], [2.119, 157.6], [2.126, 159.5], [2.156, 155.5],
	[2.192, 154.5], [2.2, 156.4], [2.222, 155.2], [2.229, 157.0], [2.258, 157.0], [2.284, 156.4], [2.306, 157.9], [2.291, 152.1],
	[2.302, 153.0], [2.321, 150.4], [2.343, 152.1], [2.368, 153.0], [2.383, 150.7], [2.405, 153.0], [2.427, 152.7], [2.383, 154.5],
	[2.361, 155.6], [2.372, 157.3], [2.442, 154.7], [2.493, 154.2], [2.449, 153.6], [2.412, 154.2],
	[1.89, 158.0], [1.87, 159.8], [1.95, 157.5], [2.02, 157.3], [1.98, 161.0], [2.06, 158.5], [1.82, 161.3], [1.86, 162.4],
	[1.91, 161.5], [2.14, 156.9], [2.17, 156.0], [2.25, 155.8],
	[1.84, 158.8], [1.86, 157.9], [1.93, 159.0], [1.97, 156.3], [2.0, 159.2], [2.04, 157.6], [2.08, 160.6], [2.11, 158.6],
	[2.15, 158.3], [1.8, 158.9], [1.74, 160.9], [1.69, 161.9], [1.9, 163.2], [1.85, 164.3],
];

const latestReading: [number, number][] = [[1.882, 159.2]];

const trend2001to2012: [number, number][] = [[0.637, 71.4], [4.29, 136.0]];
const trend2021to2025: [number, number][] = [[0.908, 103.7], [4.131, 160.3]];

const X_MIN = 0.5;
const X_MAX = 4.5;
const X_STEP = 0.5;
const Y_MIN = 70;
const Y_MAX = 170;
const Y_STEP = 5;

const NAVY = "#0C1E5B";
const TEXT_NAVY = "#1B2A5E";
const POINT_BLUE = "#0070C0";
const FONT = "'Liberation Sans', Arial, sans-serif";

const toXY = (rows: [number, number][]) => rows.map(([x, y]) => ({ x, y }));

function drawArrow(
	ctx: CanvasRenderingContext2D,
	x1: number,
	y1: number,
	x2: number,
	y2: number,
	lineWidth: number,
	headLen: number,
	headWidth: number,
	color: string,
) {
	const ang = Math.atan2(y2 - y1, x2 - x1);
	const bx = x2 - headLen * Math.cos(ang);
	const by = y2 - headLen * Math.sin(ang);
	ctx.strokeStyle = color;
	ctx.fillStyle = color;
	ctx.lineWidth = lineWidth;
	ctx.beginPath();
	ctx.moveTo(x1, y1);
	ctx.lineTo(bx, by);
	ctx.stroke();
	const hw = headWidth / 2;
	ctx.beginPath();
	ctx.moveTo(x2, y2);
	ctx.lineTo(bx + hw * Math.sin(ang), by - hw * Math.cos(ang));
	ctx.lineTo(bx - hw * Math.sin(ang), by + hw * Math.cos(ang));
	ctx.closePath();
	ctx.fill();
}

const overlayPlugin = {
	id: "overlay",
	beforeDatasetsDraw(chart: Chart) {
		const { ctx } = chart;
		const xs = chart.scales.x;
		const ys = chart.scales.y;
		const cx = xs.getPixelForValue(2.053);
		const cy = ys.getPixelForValue(157.75);
		const rx = xs.getPixelForValue(2.573) - cx;
		const ry = ys.getPixelForValue(168.4) - cy;
		ctx.save();
		ctx.beginPath();
		ctx.ellipse(cx, cy, rx, ry, 0, 0, Math.PI * 2);
		ctx.fillStyle = "rgba(0, 176, 240, 0.2)";
		ctx.fill();
		ctx.lineWidth = 4;
		ctx.strokeStyle = NAVY;
		ctx.stroke();
		ctx.restore();
	},
	afterDatasetsDraw(chart: Chart) {
		const { ctx, chartArea } = chart;
		const xs = chart.scales.x;
		const ys = chart.scales.y;
		const px = (v: number) => xs.getPixelForValue(v);
		const py = (v: number) => ys.getPixelForValue(v);
		ctx.save();

		// text box, bottom-left
		const bx0 = chartArea.left;
		const bx1 = px(1.432);
		const by0 = py(146.6);
		const by1 = chartArea.bottom;
		ctx.fillStyle = "#ffffff";
		ctx.fillRect(bx0, by0, bx1 - bx0, by1 - by0);
		ctx.lineWidth = 4;
		ctx.strokeStyle = NAVY;
		ctx.strokeRect(bx0, by0, bx1 - bx0, by1 - by0);
		const boxLines = [
			"Despite Intervention,",
			"Yen Is Right in the",
			"Middle of Where It's",
			"Been Throughout",
			"Takaichi Era",
		];
		ctx.fillStyle = "#000000";
		ctx.font = `bold 35px ${FONT}`;
		ctx.textAlign = "left";
		ctx.textBaseline = "alphabetic";
		boxLines.forEach((line, i) => {
			ctx.fillText(line, bx0 + 35, by0 + 48 + i * 42.5);
		});

		// arrow from box to latest reading
		drawArrow(ctx, bx1, py(155.5), px(1.829), py(158.8), 4, 30, 26, "#0B2A6E");

		// vertical arrows at the latest yield gap
		drawArrow(ctx, px(1.9), py(93.7), px(1.9), py(121.15), 8, 44, 44, NAVY);
		drawArrow(ctx, px(1.9), py(121.15), px(1.9), py(151.8), 8, 46, 44, "#0B2A6E");

		// period labels and their arrows
		ctx.fillStyle = TEXT_NAVY;
		ctx.font = `bold 36px ${FONT}`;
		ctx.textAlign = "center";
		ctx.fillText("2001-2012", px(2.874), py(88.73));
		drawArrow(ctx, px(2.814), py(90.45), px(2.506), py(104.5), 4.5, 28, 30, NAVY);

		ctx.textAlign = "left";
		ctx.fillText("Jan. 2021 to 10-15-25", px(0.618), py(129.2));
		drawArrow(ctx, px(0.866), py(123.8), px(1.122), py(108.5), 4.5, 30, 26, NAVY);

		// plot frame
		ctx.lineWidth = 5;
		ctx.strokeStyle = NAVY;
		ctx.strokeRect(
			chartArea.left,
			chartArea.top,
			chartArea.right - chartArea.left,
			chartArea.bottom - chartArea.top,
		);
		ctx.restore();
	},
	afterDraw(chart: Chart) {
		const { ctx } = chart;
		ctx.save();
		ctx.fillStyle = TEXT_NAVY;
		ctx.font = `bold 36px ${FONT}`;
		ctx.textAlign = "center";
		ctx.textBaseline = "alphabetic";
		ctx.fillText(
			"Interest Rate Gap on 10-year government bonds, US-Japan",
			1075,
			1268,
		);
		ctx.translate(52, 541);
		ctx.rotate(-Math.PI / 2);
		ctx.fillText("Yen/$ (inverted)", 0, 0);
		ctx.restore();
	},
};

const YenGapChart: React.FC = () => {
	const canvasRef = useRef<HTMLCanvasElement>(null);
	const chartRef = useRef<Chart | null>(null);

	useEffect(() => {
		if (!canvasRef.current) return;
		if (chartRef.current) chartRef.current.destroy();

		chartRef.current = new Chart(canvasRef.current, {
			type: "scatter",
			data: {
				datasets: [
					{
						label: "Trend 2001-2012",
						data: toXY(trend2001to2012),
						showLine: true,
						pointRadius: 0,
						borderColor: "#0A1A4F",
						borderWidth: 6.5,
						borderDash: [0.5, 15],
						borderCapStyle: "round",
					},
					{
						label: "Trend 2021-2025",
						data: toXY(trend2021to2025),
						showLine: true,
						pointRadius: 0,
						borderColor: "#0A1A4F",
						borderWidth: 6.5,
						borderDash: [0.5, 15],
						borderCapStyle: "round",
					},
					{
						label: "Latest",
						data: toXY(latestReading),
						pointStyle: "rect",
						pointRadius: 22,
						backgroundColor: "#003B7A",
						borderColor: "#1A7CC8",
						borderWidth: 2,
					},
					{
						label: "Takaichi era",
						data: toXY(takaichiEra),
						pointStyle: "rectRot",
						pointRadius: 11,
						backgroundColor: "rgba(0,0,0,0)",
						borderColor: "#0C82CC",
						borderWidth: 3,
					},
					{
						label: "Jan. 2021 to 10-15-25",
						data: toXY(period2021to2025),
						pointStyle: "cross",
						pointRadius: 11.5,
						borderColor: POINT_BLUE,
						borderWidth: 3.8,
					},
					{
						label: "2001-2012",
						data: toXY(period2001to2012),
						pointStyle: "circle",
						pointRadius: 7,
						backgroundColor: "rgba(0,0,0,0)",
						borderColor: POINT_BLUE,
						borderWidth: 3,
					},
				],
			},
			options: {
				animation: false,
				responsive: true,
				maintainAspectRatio: false,
				devicePixelRatio: 1,
				events: [],
				layout: { padding: { top: 24, right: 85, bottom: 0, left: 0 } },
				plugins: {
					legend: { display: false },
					tooltip: { enabled: false },
				},
				scales: {
					x: {
						type: "linear",
						min: X_MIN,
						max: X_MAX,
						afterFit: (scale) => {
							scale.height = 192;
							scale.paddingLeft = 0;
							scale.paddingRight = 0;
						},
						grid: { display: false, drawTicks: false },
						border: { display: false },
						ticks: {
							stepSize: X_STEP,
							padding: 26,
							color: TEXT_NAVY,
							font: { family: FONT, size: 36 },
							callback: (v) => `${Number(v).toFixed(1)}%`,
						},
					},
					y: {
						type: "linear",
						reverse: true,
						min: Y_MIN,
						max: Y_MAX,
						afterFit: (scale) => {
							scale.width = 215;
							scale.paddingTop = 0;
							scale.paddingBottom = 0;
						},
						grid: { color: "#00B0F0", lineWidth: 1.6, drawTicks: false },
						border: { display: false },
						ticks: {
							stepSize: Y_STEP,
							padding: 32,
							color: TEXT_NAVY,
							font: { family: FONT, size: 36 },
						},
					},
				},
			},
			plugins: [overlayPlugin],
		});

		return () => {
			chartRef.current?.destroy();
			chartRef.current = null;
		};
	}, []);

	return (
		<div
			style={{
				position: "fixed",
				left: 0,
				top: 0,
				width: 2249,
				height: 1300,
				background: "#ffffff",
			}}
		>
			<canvas ref={canvasRef} />
		</div>
	);
};

export default function App() {
	return <YenGapChart />;
}
